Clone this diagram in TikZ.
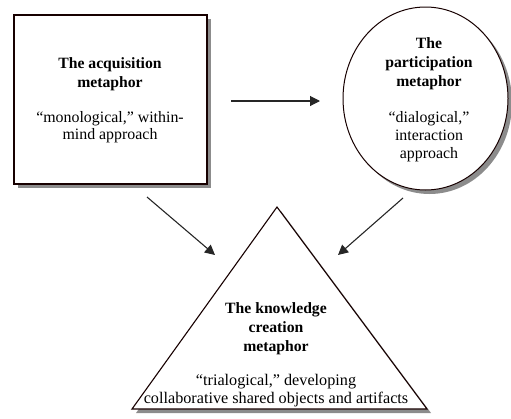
\documentclass[tikz,border=0pt]{standalone}
\usepackage{fontspec}
\setmainfont{Liberation Serif}
\usetikzlibrary{shadows,arrows.meta,shapes.geometric}
\begin{document}
\begin{tikzpicture}[x=1pt,y=-1pt,
  shapeline/.style={draw=black!85!red!60!black, line width=1.3pt, fill=white},
  shad/.style={drop shadow={shadow xshift=4pt, shadow yshift=-4pt, fill=black, opacity=0.45}},
  ttl/.style={font=\fontsize{15.7}{18.8}\selectfont\bfseries, align=center, anchor=base, inner sep=0pt},
  dsc/.style={font=\fontsize{15.9}{17.5}\selectfont, align=center, anchor=base, inner sep=0pt},
  arr/.style={draw=black!85, line width=1.1pt, -{Triangle[length=10pt,width=10pt]}}]
\useasboundingbox (0,0) rectangle (511,418);
% acquisition square
\node[shapeline, shad, minimum width=193pt, minimum height=169pt, inner sep=0pt] (acq) at (110.5,99.5) {};
\node[ttl] (acqt) at (110,87.5) {The acquisition\\metaphor};
\node[dsc, font=\fontsize{15.9}{16.5}\selectfont] (acqd) at (110,139) {“monological,” within-\\mind approach};
% participation ellipse
\node[shapeline, shad, ellipse, minimum width=165pt, minimum height=183pt, inner sep=0pt, line width=1pt] (par) at (425.5,98.5) {};
\node[ttl] (part) at (429,86.5) {The\\participation\\metaphor};
\node[dsc, font=\fontsize{15.9}{18}\selectfont] (pard) at (429,158.5) {“dialogical,”\\interaction\\approach};
% knowledge creation triangle
\coordinate (kA) at (277,207);
\coordinate (kL) at (132,409);
\coordinate (kR) at (427,409);
\path[shapeline, shad, line width=1.1pt] (kA) -- (kR) -- (kL) -- cycle;
\node[ttl] (kct) at (276,351.5) {The knowledge\\creation\\metaphor};
\node[dsc, font=\fontsize{16.2}{18}\selectfont] (kcd) at (276,403.5) {“trialogical,” developing\\collaborative shared objects and artifacts};
% arrows
\coordinate (h1) at (231,101);
\coordinate (h2) at (320,101);
\coordinate (l1) at (147,197);
\coordinate (l2) at (215,255);
\coordinate (r1) at (403,198);
\coordinate (r2) at (338,255);
\draw[arr] (h1) -- (h2);
\draw[arr] (l1) -- (l2);
\draw[arr] (r1) -- (r2);
\end{tikzpicture}
\end{document}
